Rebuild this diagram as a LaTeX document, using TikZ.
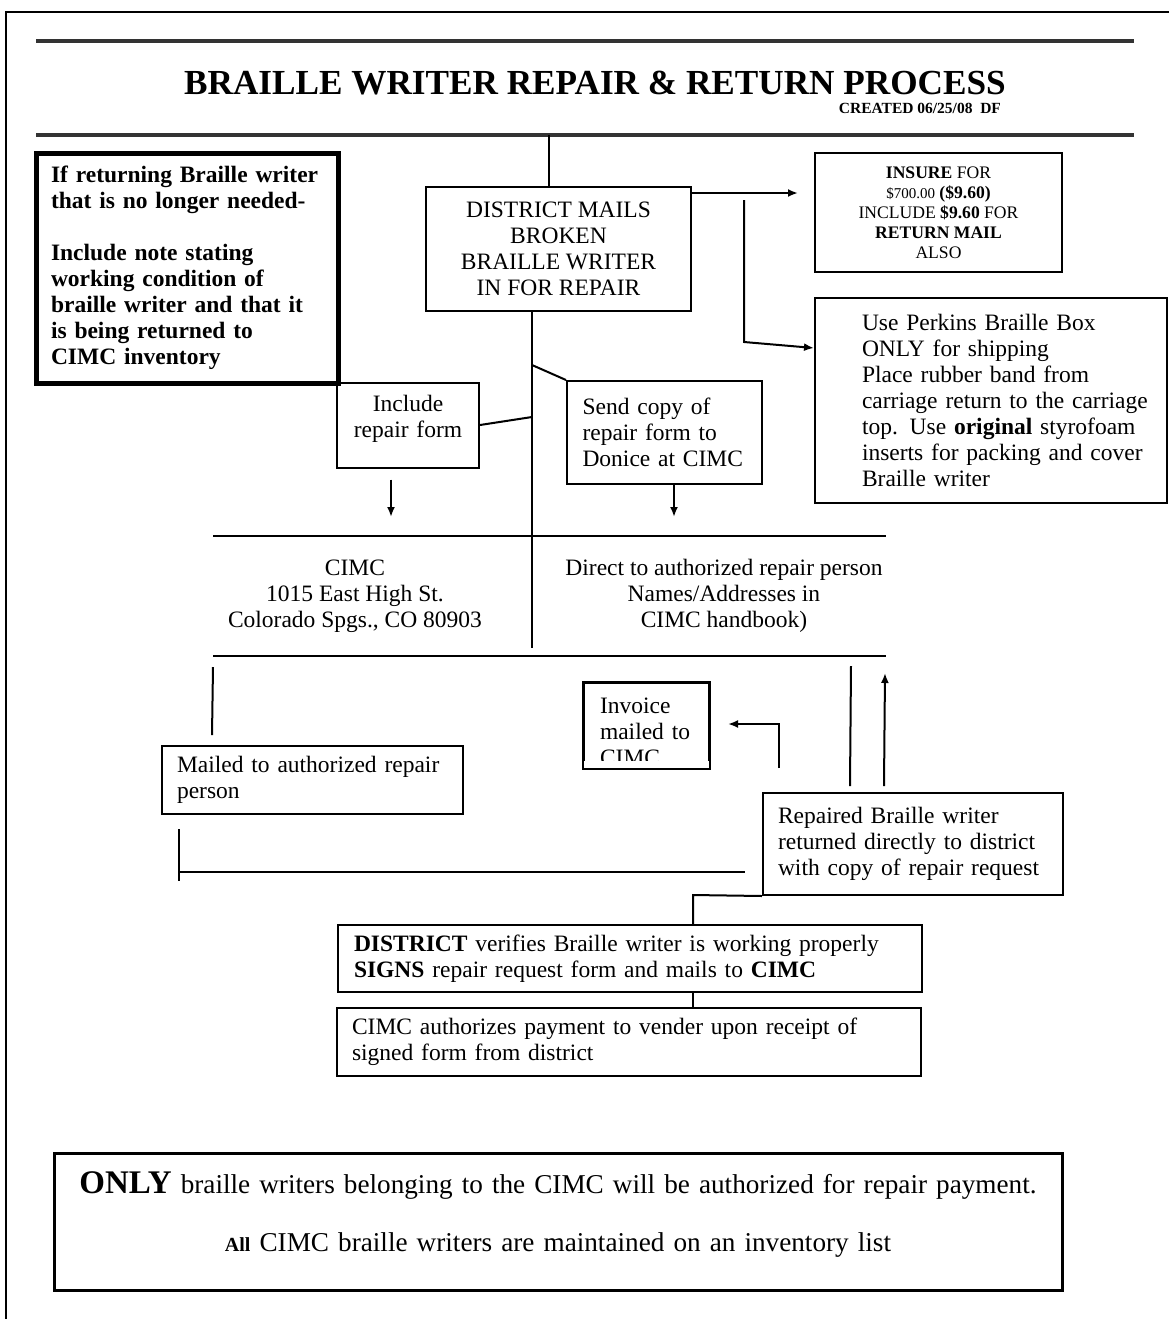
\documentclass[tikz,border=0pt]{standalone}
\usepackage{fontspec}
\setmainfont{Liberation Serif}
\usetikzlibrary{arrows.meta,calc}
\newcommand\txtsz{\fontsize{11.75}{13}\selectfont}

\begin{document}
\begin{tikzpicture}[x=0.5pt,y=-0.5pt,
    box/.style={draw,line width=1pt,inner xsep=7.5pt,inner ysep=0pt,font=\txtsz},
    lbox/.style={box,align=left},
    arr/.style={-{Latex[length=5pt,width=4pt]}},
    rule/.style={line width=1.75pt,black!80}]
  \useasboundingbox (0,0) rectangle (1169,1319);
  % page frame
  \draw[line width=1pt] (1169,12) -- (6,12) -- (6,1319);
  % heading
  \draw[rule] (36,41) -- (1134,41);
  \node[font=\fontsize{17.6}{20}\selectfont\bfseries,anchor=base] (title) at (595,94) {BRAILLE WRITER REPAIR \& RETURN PROCESS};
  \node[font=\fontsize{7.75}{9}\selectfont\bfseries,anchor=base east] (created) at (1008,113) {CREATED 06/25/08\ \ DF};
  \draw[rule] (36,135) -- (1134,135);
  \coordinate (top) at (549,135);

  % boxes
  \node[lbox,line width=2.5pt,text width=136pt,minimum height=115pt,font=\txtsz\bfseries] (note) at (187,268)
    {If returning Braille writer\\that is no longer needed-\\[13pt]Include note stating\\working condition of\\braille writer and that it\\is being returned to\\CIMC inventory};
  \node[box,align=center,minimum width=132.5pt,minimum height=62pt] (mails) at (558.5,249)
    {DISTRICT MAILS\\BROKEN\\BRAILLE WRITER\\IN FOR REPAIR};
  \node[box,align=center,minimum width=123.5pt,minimum height=59.5pt,font=\fontsize{8.8}{10}\selectfont] (insure) at (938.5,212.5)
    {\textbf{INSURE} FOR\\{\fontsize{7.5}{10}\selectfont\$700.00} \textbf{(\$9.60)}\\INCLUDE \textbf{\$9.60} FOR\\\textbf{RETURN MAIL}\\ALSO};
  \node[lbox,text width=161pt,minimum height=102.5pt] (perkins) at (991,400.5)
    {\hspace*{16pt}\parbox[t]{145pt}{\raggedright Use Perkins Braille Box\\ONLY for shipping\\Place rubber band from\\carriage return to the carriage\\top. Use \textbf{original} styrofoam\\inserts for packing and cover\\Braille writer}};
  \node[box,align=center,text width=56pt,text height=14.5pt,text depth=28pt] (include) at (408,425)
    {Include\\repair form};
  \node[lbox,text width=82pt,inner xsep=7.75pt,minimum height=51.5pt] (send) at (664.5,432.5)
    {Send copy of\\repair form to\\Donice at CIMC};
  \node[font=\txtsz,align=center] (cimc) at (355,596)
    {CIMC\\1015 East High St.\\Colorado Spgs., CO 80903};
  \node[font=\txtsz,align=center] (direct) at (724,596)
    {Direct to authorized repair person\\Names/Addresses in\\CIMC handbook)};
  \node[lbox,text width=135.5pt,minimum height=34pt] (mailed) at (312.5,780)
    {Mailed to authorized repair\\person};
  \begin{scope}
    \clip (584,683) rectangle (709,760);
    \node[lbox,text width=46.5pt,inner xsep=8pt,text height=15pt,text depth=27.5pt] (invoice) at (646.5,725.5)
      {Invoice\\mailed to\\CIMC};
  \end{scope}
  \draw[line width=1pt] (invoice.south west) rectangle (invoice.north east);
  \node[lbox,text width=135pt,minimum height=51pt] (repaired) at (913,844)
    {Repaired Braille writer\\returned directly to district\\with copy of repair request};
  \node[lbox,text width=276pt,inner xsep=8pt,minimum height=33.5pt] (verify) at (630,958.5)
    {\textbf{DISTRICT} verifies Braille writer is working properly\\\textbf{SIGNS} repair request form and mails to \textbf{CIMC}};
  \node[lbox,text width=277pt,minimum height=34pt] (authorize) at (629,1042)
    {CIMC authorizes payment to vender upon receipt of\\signed form from district};
  \node[draw,line width=1.5pt,inner xsep=7pt,inner ysep=0pt,text width=490pt,align=center,text height=20pt,text depth=48.5pt,
        font=\fontsize{13.6}{16}\selectfont] (footer) at (558,1221.5)
    {{\fontsize{16.5}{16}\selectfont\bfseries ONLY} braille writers belonging to the CIMC will be authorized for repair payment.\\[13pt]
     {\fontsize{10}{12}\selectfont\bfseries All} CIMC braille writers are maintained on an inventory list};

  % connectors
  \draw[line width=1pt] (top) -- (mails.north -| top);
  \coordinate (ins-tip) at (798,193);
  \draw[line width=1pt,arr] (mails.east |- ins-tip) -- (ins-tip);
  \coordinate (pk-a) at (744,200);
  \coordinate (pk-b) at (744,342);
  \draw[line width=1pt,arr] (pk-a) -- (pk-b) -- ($(perkins.north west)+(0,51)$);
  \coordinate (spine) at (532,648);
  \draw[line width=1pt] (mails.south -| spine) -- (spine);
  \coordinate (j1) at (532,365);
  \coordinate (j2) at (532,417);
  \draw[line width=1pt] (j1) -- (send.north west);
  \draw[line width=1pt] (include.east) -- (j2);
  \coordinate (inc-tip) at (391,517);
  \draw[line width=1pt,arr] ($(include.south)+(-17,11)$) -- (inc-tip);
  \coordinate (snd-tip) at (674,517);
  \draw[line width=1pt,arr] (send.south -| snd-tip) -- (snd-tip);
  \draw[line width=1pt] (213,536) -- (886,536);
  \draw[line width=1pt] (213,656) -- (886,656);
  \coordinate (ml-top) at (213,667);
  \draw[line width=1pt] (ml-top) -- ($(mailed.north west)+(51,-10)$);
  \coordinate (bk) at (180,872);
  \coordinate (bk-e) at (745,872);
  \draw[line width=1pt] ($(mailed.south west)+(18,14)$) -- ++(0,52) (bk) -- (bk-e);
  \coordinate (inv-a) at (779,768);
  \draw[line width=1pt,arr] (inv-a) |- ($(invoice.east)+(18,-1.5)$);
  \coordinate (up-a) at (851,666);
  \coordinate (up-b) at (885,673);
  \draw[line width=1pt] ($(repaired.north west)+(88,-6)$) -- (up-a);
  \draw[line width=1pt,arr] ($(repaired.north west)+(122,-6)$) -- (up-b);
  \coordinate (ret) at (693,895);
  \draw[line width=1pt] (repaired.south west) -- (ret) -- (verify.north -| ret);
  \draw[line width=1pt] (verify.south -| ret) -- (authorize.north -| ret);
\end{tikzpicture}
\end{document}
